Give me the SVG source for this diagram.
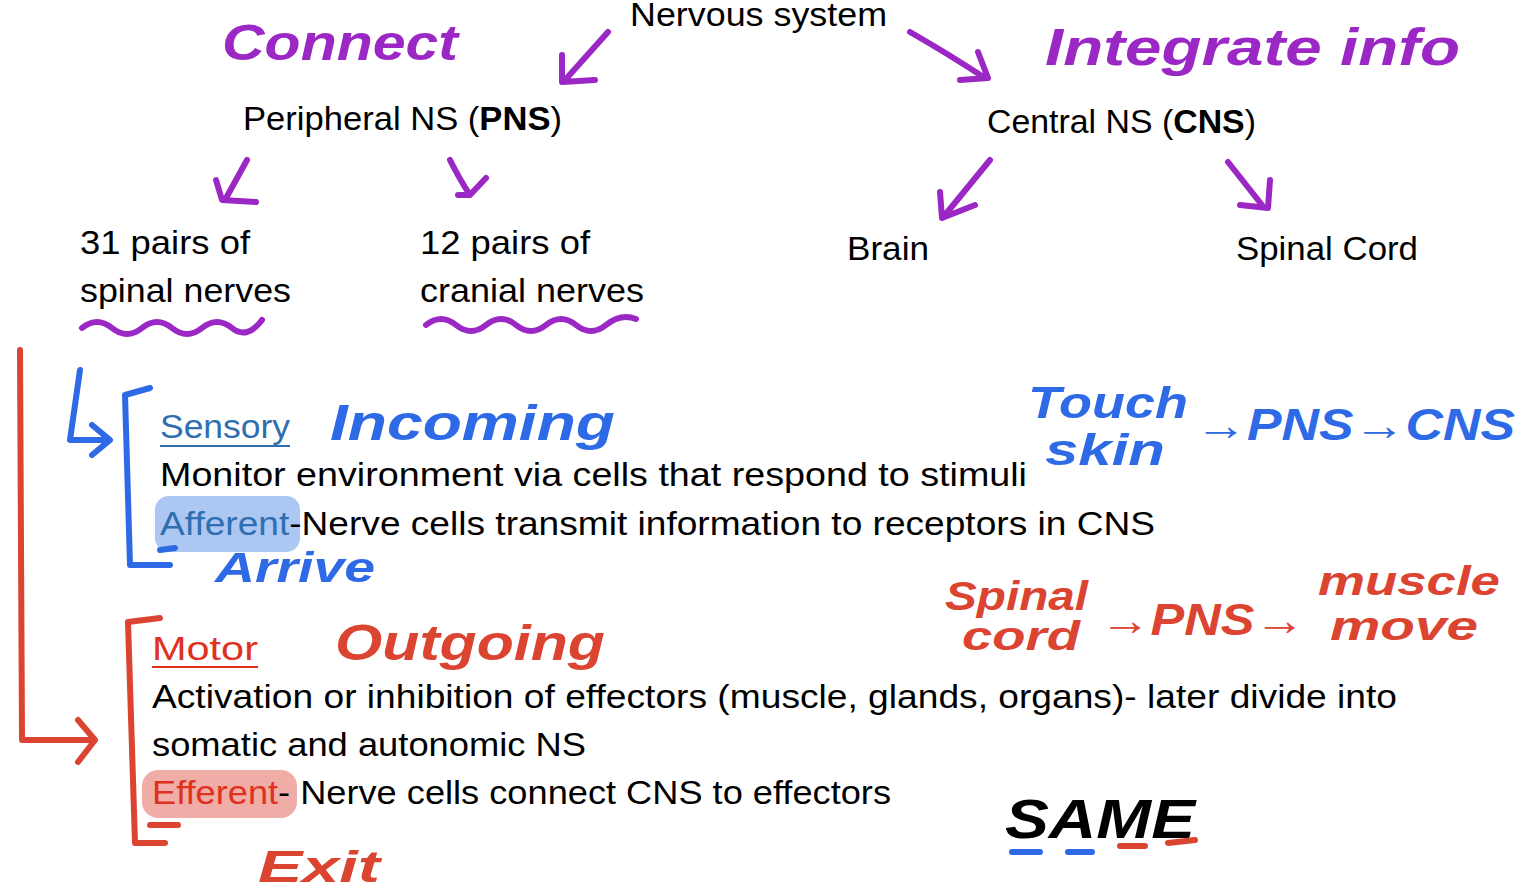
<svg xmlns="http://www.w3.org/2000/svg" width="1535" height="893" viewBox="0 0 1535 893">
<style>
.t{font-family:"Liberation Sans",Arial,sans-serif;font-size:33px;fill:#000}
.h{font-family:"Liberation Sans",Arial,sans-serif;font-weight:bold;font-style:italic}
.p{fill:none;stroke:#9b27c4;stroke-width:6;stroke-linecap:round;stroke-linejoin:round}
.b{fill:none;stroke:#2f6ae6;stroke-width:6;stroke-linecap:round;stroke-linejoin:round}
.r{fill:none;stroke:#db4430;stroke-width:6;stroke-linecap:round;stroke-linejoin:round}
</style>
<rect width="1535" height="893" fill="#fff"/>
<g id="nodes">
<g id="ns"><text class="t" x="630" y="26" textLength="257" lengthAdjust="spacingAndGlyphs">Nervous system</text></g>
<g id="pns"><text class="t" x="243" y="130" textLength="319" lengthAdjust="spacingAndGlyphs">Peripheral NS (<tspan font-weight="bold">PNS</tspan>)</text></g>
<g id="cns"><text class="t" x="987" y="133" textLength="269" lengthAdjust="spacingAndGlyphs">Central NS (<tspan font-weight="bold">CNS</tspan>)</text></g>
<g id="spinal"><text class="t" x="80" y="254" textLength="170" lengthAdjust="spacingAndGlyphs">31 pairs of</text><text class="t" x="80" y="302" textLength="211" lengthAdjust="spacingAndGlyphs">spinal nerves</text></g>
<g id="cranial"><text class="t" x="420" y="254" textLength="170" lengthAdjust="spacingAndGlyphs">12 pairs of</text><text class="t" x="420" y="302" textLength="224" lengthAdjust="spacingAndGlyphs">cranial nerves</text></g>
<g id="brain"><text class="t" x="847" y="260" textLength="82" lengthAdjust="spacingAndGlyphs">Brain</text></g>
<g id="cord"><text class="t" x="1236" y="260" textLength="182" lengthAdjust="spacingAndGlyphs">Spinal Cord</text></g>
<g id="sensory">
<rect x="155" y="496" width="145" height="56" rx="14" fill="#8fb4ee" opacity="0.75"/>
<text class="t" x="160" y="438" style="fill:#2f6fb0" textLength="130" lengthAdjust="spacingAndGlyphs">Sensory</text>
<line x1="160" y1="446" x2="290" y2="446" stroke="#2f6fb0" stroke-width="2"/>
<text class="t" x="160" y="486" textLength="867" lengthAdjust="spacingAndGlyphs">Monitor environment via cells that respond to stimuli</text>
<text class="t" x="160" y="535" textLength="995" lengthAdjust="spacingAndGlyphs"><tspan style="fill:#2f6fb0">Afferent</tspan>-Nerve cells transmit information to receptors in CNS</text>
</g>
<g id="motor">
<rect x="142" y="770" width="155" height="48" rx="16" fill="#eb9088" opacity="0.75"/>
<text class="t" x="152" y="660" style="fill:#e0301e" textLength="106" lengthAdjust="spacingAndGlyphs">Motor</text>
<line x1="152" y1="667" x2="258" y2="667" stroke="#e0301e" stroke-width="2"/>
<text class="t" x="152" y="708" textLength="1245" lengthAdjust="spacingAndGlyphs">Activation or inhibition of effectors (muscle, glands, organs)- later divide into</text>
<text class="t" x="152" y="756" textLength="434" lengthAdjust="spacingAndGlyphs">somatic and autonomic NS</text>
<text class="t" x="152" y="804" textLength="739" lengthAdjust="spacingAndGlyphs"><tspan style="fill:#e0301e">Efferent</tspan>- Nerve cells connect CNS to effectors</text>
</g>
<g id="notes">
<text class="h" x="222" y="60" font-size="50" fill="#9b27c4" textLength="236" lengthAdjust="spacingAndGlyphs">Connect</text>
<text class="h" x="1045" y="65" font-size="52" fill="#9b27c4" textLength="415" lengthAdjust="spacingAndGlyphs">Integrate info</text>
<text class="h" x="330" y="440" font-size="50" fill="#2f6ae6" textLength="285" lengthAdjust="spacingAndGlyphs">Incoming</text>
<text class="h" x="1028" y="418" font-size="44" fill="#2f6ae6" textLength="160" lengthAdjust="spacingAndGlyphs">Touch</text>
<text class="h" x="1045" y="465" font-size="44" fill="#2f6ae6" textLength="120" lengthAdjust="spacingAndGlyphs">skin</text>
<text class="h" x="1195" y="440" font-size="44" fill="#2f6ae6" textLength="320" lengthAdjust="spacingAndGlyphs">→PNS→CNS</text>
<text class="h" x="215" y="582" font-size="42" fill="#2f6ae6" textLength="160" lengthAdjust="spacingAndGlyphs">Arrive</text>
<text class="h" x="335" y="660" font-size="50" fill="#db4430" textLength="270" lengthAdjust="spacingAndGlyphs">Outgoing</text>
<text class="h" x="945" y="610" font-size="40" fill="#db4430" textLength="143" lengthAdjust="spacingAndGlyphs">Spinal</text>
<text class="h" x="962" y="650" font-size="40" fill="#db4430" textLength="118" lengthAdjust="spacingAndGlyphs">cord</text>
<text class="h" x="1100" y="635" font-size="44" fill="#db4430" textLength="205" lengthAdjust="spacingAndGlyphs">→PNS→</text>
<text class="h" x="1318" y="595" font-size="40" fill="#db4430" textLength="182" lengthAdjust="spacingAndGlyphs">muscle</text>
<text class="h" x="1330" y="640" font-size="40" fill="#db4430" textLength="148" lengthAdjust="spacingAndGlyphs">move</text>
<text class="h" x="258" y="882" font-size="44" fill="#db4430" textLength="122" lengthAdjust="spacingAndGlyphs">Exit</text>
<text class="h" x="1005" y="838" font-size="56" fill="#000" textLength="190" lengthAdjust="spacingAndGlyphs">SAME</text>
</g>
</g>
<g id="connectors">
<path class="p" d="M608 32 L565 80 M562 55 L562 82 L595 80"/>
<path class="p" d="M910 32 Q950 55 985 78 M960 80 L988 78 L978 52"/>
<path class="p" d="M247 160 L225 200 M216 180 L222 200 L256 202"/>
<path class="p" d="M450 160 Q460 180 470 195 M458 195 L470 195 L486 178"/>
<path class="p" d="M990 160 L945 215 M940 192 L942 218 L975 205"/>
<path class="p" d="M1228 162 L1262 205 M1240 205 L1268 208 L1270 180"/>
<path class="p" d="M82 328 q15 -12 30 0 t30 0 t30 0 t30 0 t30 0 t30 -8"/>
<path class="p" d="M426 325 q15 -12 30 0 t30 0 t30 0 t30 0 t30 0 t30 0 t30 -6"/>
<path class="b" d="M80 370 L70 440 L108 440 M92 425 L110 440 L92 455"/>
<path class="b" d="M150 388 L125 395 L130 565 L170 565 M160 550 L175 548"/>
<path class="b" d="M1012 852 L1040 852 M1068 852 L1092 852"/>
<path class="r" d="M20 350 L22 740 L92 740 M78 720 L95 740 L78 762"/>
<path class="r" d="M160 618 L128 622 L135 843 L165 843 M150 825 L178 825"/>
<path class="r" d="M1120 846 L1145 846 M1168 843 L1195 840"/>
</g>
</svg>
